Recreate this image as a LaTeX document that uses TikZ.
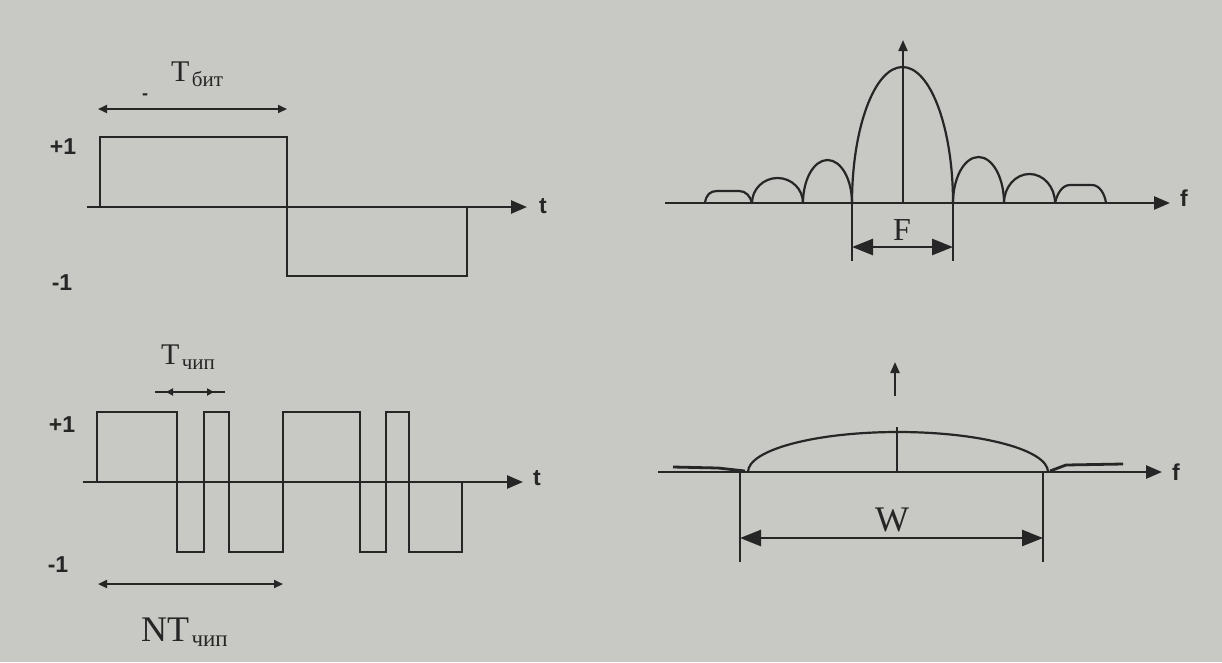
\documentclass[tikz,border=0pt]{standalone}
\usepackage{fontspec}
\setmainfont{Liberation Serif}
\newfontfamily\lsans{Liberation Sans}
\usetikzlibrary{arrows.meta}
\definecolor{paper}{HTML}{C8C8C4}
\definecolor{ink}{HTML}{262626}
\begin{document}
\begin{tikzpicture}[x=1pt,y=-1pt,
  inkline/.style={draw=ink, line width=2.6pt, line join=miter},
  curve/.style={draw=ink, line width=2.2pt},
  axis/.style={inkline, -{Triangle[length=16pt,width=13pt]}},
  vaxis/.style={draw=ink, line width=2pt, -{Triangle[length=11pt,width=9pt]}},
  dim/.style={inkline, {Triangle[length=21pt,width=16pt]}-{Triangle[length=21pt,width=16pt]}},
  smalldim/.style={draw=ink, line width=2.1pt, {Triangle[length=9pt,width=8pt]}-{Triangle[length=9pt,width=8pt]}},
  tinydim/.style={draw=ink, line width=2.1pt, {Triangle[length=7pt,width=7pt]}-{Triangle[length=7pt,width=7pt]}},
  lbl/.style={text=ink, font=\lsans\bfseries\fontsize{23}{23}\selectfont, inner sep=0pt},
  sym/.style={text=ink, font=\fontsize{30}{30}\selectfont, inner sep=0pt},
  sub/.style={text=ink, font=\fontsize{21}{21}\selectfont, inner sep=0pt},
]
\fill[paper] (0,0) rectangle (1222,662);
\useasboundingbox (0,0) rectangle (1222,662);

% ---------- top left: bit ----------
\coordinate (a1s) at (87,207);
\coordinate (a1e) at (527,207);
\draw[axis] (a1s) -- (a1e);
\node[lbl, anchor=west] (t1) at (539,206) {t};
\node[lbl] (p1) at (63,147) {+1};
\node[lbl] (m1) at (62,283) {-1};
\draw[inkline] (100,207) |- (287,137) |- (467,276) -- (467,207);
\coordinate (tb1) at (98,109);
\coordinate (tb2) at (287,109);
\draw[smalldim] (tb1) -- (tb2);
\node[text=ink, font=\lsans\bfseries\fontsize{18}{18}\selectfont, inner sep=0pt] (dash) at (145,97) {-};
\node[sym, anchor=base west] (Tb) at (171,81) {T};
\node[sub, anchor=base west] (Tbs) at ([xshift=2pt]Tb.base east) {\raisebox{-5pt}{бит}};

% ---------- bottom left: chips ----------
\coordinate (a2s) at (83,482);
\coordinate (a2e) at (523,482);
\draw[axis] (a2s) -- (a2e);
\node[lbl, anchor=west] (t2) at (533,478) {t};
\node[lbl] (p2) at (62,425) {+1};
\node[lbl] (m2) at (58,565) {-1};
\draw[inkline] (97,482) |- (177,412) |- (204,552) |- (229,412) |- (283,552)
  |- (360,412) |- (386,552) |- (409,412) |- (462,552) -- (462,482);
\coordinate (tc0) at (155,392);
\coordinate (tc3) at (225,392);
\draw[draw=ink, line width=2.1pt] (tc0) -- (tc3);
\coordinate (tc1) at (166,392);
\coordinate (tc2) at (214,392);
\draw[tinydim] (tc1) -- (tc2);
\node[sym, anchor=base west] (Tc) at (161,364) {T};
\node[sub, anchor=base west] (Tcs) at ([xshift=2pt]Tc.base east) {\raisebox{-5pt}{чип}};
\coordinate (nt1) at (98,584);
\coordinate (nt2) at (283,584);
\draw[smalldim] (nt1) -- (nt2);
\node[sym, anchor=base west, font=\fontsize{36}{36}\selectfont] (NT) at (141,641) {NT};
\node[sub, anchor=base west, font=\fontsize{23}{23}\selectfont] (NTs) at ([xshift=2pt]NT.base east) {\raisebox{-5pt}{чип}};

% ---------- top right: narrow spectrum ----------
\coordinate (a3s) at (665,203);
\coordinate (a3e) at (1170,203);
\draw[axis] (a3s) -- (a3e);
\node[lbl, anchor=west] (f1) at (1180,198) {f};
\coordinate (v3s) at (903,203);
\coordinate (v3e) at (903,40);
\draw[vaxis] (v3s) -- (v3e);
\draw[curve] (852,203) arc[start angle=180, end angle=360, x radius=50.5, y radius=136];
\draw[curve] (803,203) arc[start angle=180, end angle=360, x radius=24.5, y radius=43];
\draw[curve] (752,203) arc[start angle=180, end angle=360, x radius=25.5, y radius=25];
\draw[curve] (705,203) .. controls (706,195) and (710,191) .. (717,191) -- (739,191)
  .. controls (746,191) and (750,196) .. (752,203);
\draw[curve] (953,203) arc[start angle=180, end angle=360, x radius=25.5, y radius=46];
\draw[curve] (1004,203) arc[start angle=180, end angle=360, x radius=25.5, y radius=29];
\draw[curve] (1055,203) .. controls (1057,194) and (1062,185) .. (1070,185) -- (1092,185)
  .. controls (1100,185) and (1105,195) .. (1106,203);
\draw[inkline] (852,203) -- (852,261);
\draw[inkline] (953,203) -- (953,261);
\coordinate (F1) at (852,247);
\coordinate (F2) at (953,247);
\draw[dim] (F1) -- (F2);
\node[sym, font=\fontsize{32}{32}\selectfont] (F) at (902,230) {F};

% ---------- bottom right: wide spectrum ----------
\coordinate (a4s) at (658,472);
\coordinate (a4e) at (1162,472);
\draw[axis] (a4s) -- (a4e);
\node[lbl, anchor=west] (f2) at (1172,472) {f};
\coordinate (v4s) at (895,396);
\coordinate (v4e) at (895,362);
\draw[vaxis, line width=2.2pt] (v4s) -- (v4e);
\draw[curve] (748,472) arc[start angle=180, end angle=360, x radius=150, y radius=40];
\draw[inkline] (897,427) -- (897,472);
\draw[draw=ink, line width=2.8pt] (673,467) -- (718,468) -- (745,471);
\draw[draw=ink, line width=2.8pt] (1050,471) -- (1066,465) -- (1123,464);
\draw[inkline] (740,472) -- (740,562);
\draw[inkline] (1043,472) -- (1043,562);
\coordinate (W1) at (740,538);
\coordinate (W2) at (1043,538);
\draw[dim] (W1) -- (W2);
\node[sym, font=\fontsize{36}{36}\selectfont] (W) at (892,520) {W};
\end{tikzpicture}
\end{document}
